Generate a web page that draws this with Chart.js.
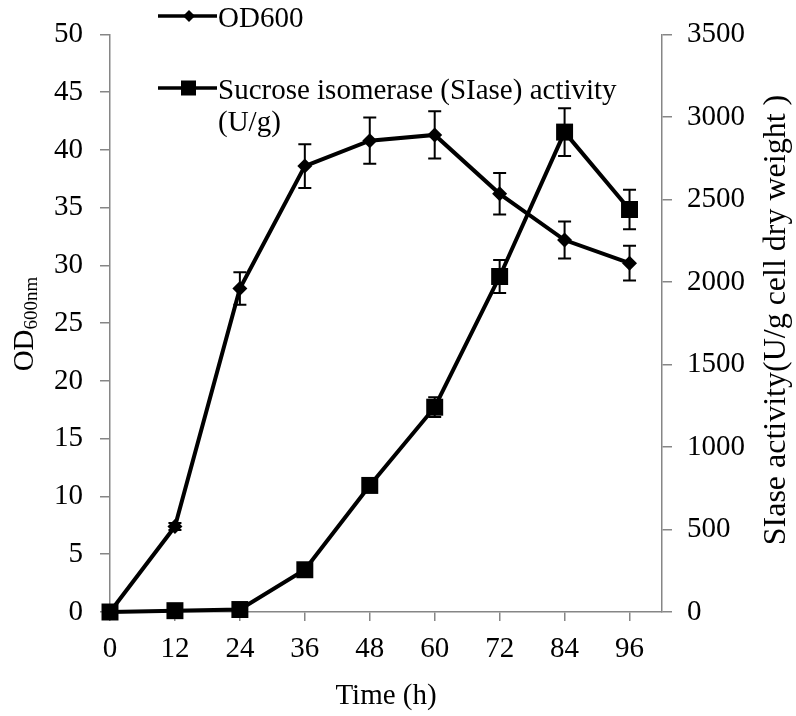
<!DOCTYPE html>
<html>
<head>
<meta charset="utf-8">
<title>OD600 and SIase activity</title>
<script src="https://cdn.jsdelivr.net/npm/chart.js@4.4.1/dist/chart.umd.min.js"></script>
<style>
    html, body { margin: 0; padding: 0; background: #fff; }
    #wrap { width: 796px; height: 716px; }
</style>
</head>
<body>
<div id="wrap"><canvas id="growthChart" width="796" height="716"></canvas></div>
<script>
// data
const hours = [0, 12, 24, 36, 48, 60, 72, 84, 96];
const xTicks = [0, 12, 24, 36, 48, 60, 72, 84, 96];
const odValues = [0, 7.4, 28.0, 38.6, 40.8, 41.3, 36.2, 32.2, 30.2];
const odErrors = [0, 0.3, 1.4, 1.9, 2.0, 2.05, 1.8, 1.6, 1.5];
const siaseValues = [0, 8, 15, 256, 767, 1241, 2033, 2908, 2439];
const siaseErrors = [0, 0, 0, 20, 30, 60, 100, 145, 120];
const odLabel = 'OD600';
const siaseLabel = 'Sucrose isomerase (SIase) activity\n(U/g)';
const xTitle = 'Time (h)';
const rightTitle = 'SIase activity(U/g cell dry weight )';

const FONT = '"Liberation Serif", "Times New Roman", serif';
const AXIS_GREY = '#868686';

// error bars, drawn through the chart's own scales
const errorBarPlugin = {
    id: 'errorBars',
    afterDatasetsDraw(chart) {
        const ctx = chart.ctx;
        ctx.save();
        ctx.strokeStyle = '#000';
        ctx.lineWidth = 2;
        chart.data.datasets.forEach((ds) => {
            const yScale = chart.scales[ds.yAxisID];
            const xScale = chart.scales.x;
            ds.data.forEach((p, i) => {
                const err = ds.errors[i];
                if (!err) return;
                const x = xScale.getPixelForValue(p.x);
                const top = yScale.getPixelForValue(p.y + err);
                const bot = yScale.getPixelForValue(p.y - err);
                ctx.beginPath();
                ctx.moveTo(x, top); ctx.lineTo(x, bot);
                ctx.moveTo(x - 6.5, top); ctx.lineTo(x + 6.5, top);
                ctx.moveTo(x - 6.5, bot); ctx.lineTo(x + 6.5, bot);
                ctx.stroke();
            });
        });
        ctx.restore();
    }
};

// legend in the top-left corner + rotated y titles (subscript needs manual drawing)
const annotationsPlugin = {
    id: 'annotations',
    afterDraw(chart) {
        const ctx = chart.ctx;
        ctx.save();
        ctx.fillStyle = '#000';
        ctx.strokeStyle = '#000';

        // legend
        const rows = [16, 88];
        chart.data.datasets.forEach((ds, i) => {
            const y = rows[i];
            ctx.lineWidth = 3.3;
            ctx.beginPath();
            ctx.moveTo(158, y); ctx.lineTo(217, y);
            ctx.stroke();
            if (ds.pointStyle === 'rectRot') {
                ctx.beginPath();
                ctx.moveTo(189, y - 6); ctx.lineTo(195, y);
                ctx.lineTo(189, y + 6); ctx.lineTo(183, y);
                ctx.closePath(); ctx.fill();
            } else {
                ctx.fillRect(181, y - 7.5, 15, 15);
            }
            ctx.font = '29px ' + FONT;
            ctx.textBaseline = 'alphabetic';
            ctx.textAlign = 'left';
            ds.label.split('\n').forEach((line, k) => {
                ctx.fillText(line, 218, y + 11 + k * 32);
            });
        });

        // left title: OD with subscript 600nm
        ctx.save();
        ctx.translate(33, 324);
        ctx.rotate(-Math.PI / 2);
        ctx.font = '29px ' + FONT;
        const mainW = ctx.measureText('OD').width;
        ctx.font = '19px ' + FONT;
        const subW = ctx.measureText('600nm').width;
        const start = -(mainW + subW) / 2;
        ctx.textAlign = 'left';
        ctx.textBaseline = 'alphabetic';
        ctx.font = '29px ' + FONT;
        ctx.fillText('OD', start, 0);
        ctx.font = '19px ' + FONT;
        ctx.fillText('600nm', start + mainW, 4);
        ctx.restore();

        // right title, reading bottom to top
        ctx.save();
        ctx.translate(785, 320);
        ctx.rotate(-Math.PI / 2);
        ctx.font = '32px ' + FONT;
        ctx.textAlign = 'center';
        ctx.textBaseline = 'alphabetic';
        ctx.fillText(rightTitle, 0, 0);
        ctx.restore();

        ctx.restore();
    }
};

const axisGrid = (len) => ({
    drawOnChartArea: false,
    drawTicks: true,
    tickLength: len,
    color: AXIS_GREY,
    lineWidth: 1.5
});
const axisBorder = { display: true, color: AXIS_GREY, width: 1.5 };
const tickFont = { family: FONT, size: 29 };
const plainNumber = (v) => String(v);

new Chart(document.getElementById('growthChart'), {
    type: 'line',
    data: {
        datasets: [
            {
                label: odLabel,
                data: hours.map((h, i) => ({ x: h, y: odValues[i] })),
                errors: odErrors,
                yAxisID: 'y',
                borderColor: '#000',
                backgroundColor: '#000',
                borderWidth: 4,
                pointStyle: 'rectRot',
                pointRadius: 7.5,
                pointBorderWidth: 0,
                tension: 0,
                clip: false
            },
            {
                label: siaseLabel,
                data: hours.map((h, i) => ({ x: h, y: siaseValues[i] })),
                errors: siaseErrors,
                yAxisID: 'y1',
                borderColor: '#000',
                backgroundColor: '#000',
                borderWidth: 4,
                pointStyle: 'rect',
                pointRadius: 12,
                pointBorderWidth: 0,
                tension: 0,
                clip: false
            }
        ]
    },
    options: {
        responsive: false,
        animation: false,
        devicePixelRatio: 1,
        layout: { padding: { top: 28, left: 0, right: 0, bottom: 0 } },
        plugins: {
            legend: { display: false },
            tooltip: { enabled: false }
        },
        scales: {
            x: {
                type: 'linear',
                position: 'bottom',
                min: 0,
                max: 102,
                afterBuildTicks: (s) => { s.ticks = xTicks.map(v => ({ value: v })); },
                afterFit: (s) => { s.height = 104; },
                ticks: { font: tickFont, color: '#000', padding: 11, maxRotation: 0, callback: plainNumber },
                grid: axisGrid(9),
                border: axisBorder,
                title: {
                    display: true,
                    text: xTitle,
                    color: '#000',
                    font: { family: FONT, size: 29 },
                    padding: { top: 0, bottom: 2 }
                }
            },
            y: {
                position: 'left',
                min: 0,
                max: 50,
                afterFit: (s) => { s.width = 110; },
                ticks: { stepSize: 5, font: tickFont, color: '#000', padding: 17, callback: plainNumber },
                grid: axisGrid(10),
                border: axisBorder
            },
            y1: {
                position: 'right',
                min: 0,
                max: 3500,
                afterFit: (s) => { s.width = 134; },
                ticks: { stepSize: 500, font: tickFont, color: '#000', padding: 15, callback: plainNumber },
                grid: axisGrid(10),
                border: axisBorder
            }
        }
    },
    plugins: [errorBarPlugin, annotationsPlugin]
});
</script>
</body>
</html>
